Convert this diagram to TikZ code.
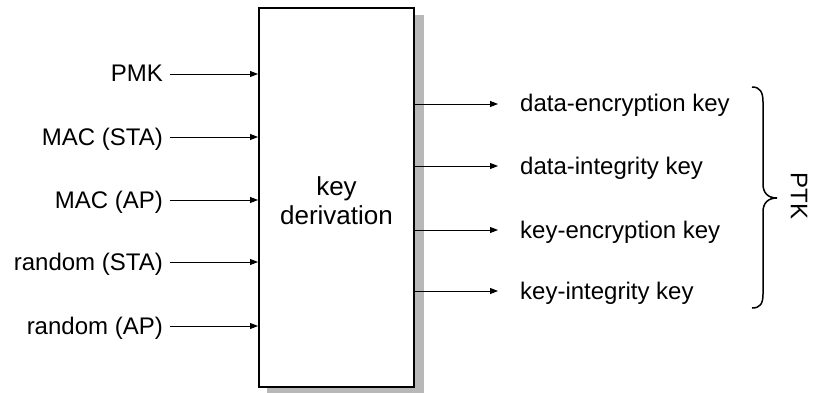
\documentclass[tikz,border=0pt]{standalone}
\usepackage{fontspec}
\setmainfont{Liberation Sans}
\usetikzlibrary{arrows.meta}
\begin{document}
\begin{tikzpicture}[x=1pt,y=-1pt,
  lbl/.style={inner sep=0pt, text height=16pt, text depth=0pt,
    font=\fontsize{24}{28}\selectfont},
  arr/.style={-{Triangle[length=8pt,width=6pt]}, line width=0.9pt},
  kdbox/.style={draw, line width=2pt, fill=white, minimum width=155pt,
    minimum height=379pt, inner sep=0pt}]
\useasboundingbox (0,0) rectangle (813,393);

% drop shadow behind the derivation box
\fill[black!28] (267,15) rectangle (424,394);
\node[kdbox] (kd) at (336.5,197.5) {};
\node[font=\fontsize{26}{29}\selectfont, align=center, inner sep=0pt] (kdtext)
  at ([yshift=-3pt]kd.center) {key\\derivation};

% inputs
\foreach \name/\txt/\y in {pmk/PMK/74, macsta/MAC (STA)/137, macap/MAC (AP)/200,
    rndsta/random (STA)/262, rndap/random (AP)/326} {
  \node[lbl, anchor=east] (\name) at (163,\y) {\txt};
  \draw[arr] ([xshift=7pt]\name.east) -- (\name -| kd.west);
}

% outputs
\foreach \name/\txt/\y in {dek/data-encryption key/104, dik/data-integrity key/166,
    kek/key-encryption key/230, kik/key-integrity key/291} {
  \node[lbl, anchor=west] (\name) at (520,\y) {\txt};
  \draw[arr] (\name -| kd.east) -- ([xshift=-22pt]\name.west);
}

% brace grouping the outputs
\coordinate (btop) at (752,87);
\coordinate (btip) at (777,198);
\coordinate (bbot) at (752,308);
\draw[line width=1.5pt] (btop) .. controls (760,87) and (763,92) .. (763,102)
  -- (763,184) .. controls (763,193) and (768,198) .. (btip)
  .. controls (768,198) and (763,203) .. (763,212)
  -- (763,294) .. controls (763,304) and (760,308) .. (bbot);
\node[font=\fontsize{24}{28}\selectfont, rotate=-90, inner sep=0pt] (ptk)
  at (799,196) {PTK};
\end{tikzpicture}
\end{document}
